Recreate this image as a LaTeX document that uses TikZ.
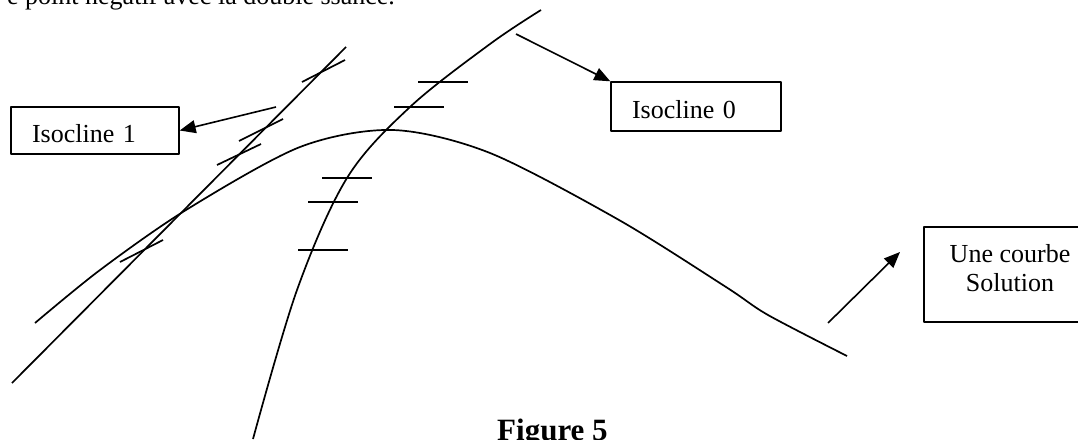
\documentclass[tikz,border=0pt]{standalone}
\usepackage{fontspec}
\setmainfont{Liberation Serif}
\usetikzlibrary{arrows.meta}

\begin{document}
\begin{tikzpicture}[
  x=1pt,
  y=-1pt,
  line join=round,
  curve/.style={draw=black,line width=1.7pt},
  tick/.style={draw=black,line width=1.7pt},
  labelbox/.style={draw=black,line width=1.4pt,inner ysep=0pt,
    text height=23pt,text depth=0pt,font=\fontsize{26}{29}\selectfont},
  solbox/.style={draw=black,line width=1.4pt,minimum width=172pt,minimum height=95pt},
  pointer/.style={draw=black,line width=1.6pt,-{Triangle[length=16pt,width=13pt]}}
]
  % Page frame of the scanned figure.
  \clip (0,0) rectangle (1078,439);

  % Cut-off line of text above the figure.
  \node[anchor=base west,inner sep=0pt,font=\fontsize{26}{29}\selectfont] (toptext)
    at (7,5) {e point négatif avec la double ssance.};

  % Isocline 1 (straight line) and its slanted direction marks.
  \coordinate (iA) at (12,383);
  \coordinate (iB) at (346,47);
  \draw[curve] (iA) -- (iB);
  \draw[tick] (302,82) -- (345,60);
  \draw[tick] (239,141) -- (283,119);
  \draw[tick] (217,165) -- (261,144);
  \draw[tick] (120,262) -- (163,240);

  % Isocline 0 and its horizontal direction marks.
  \draw[curve] plot[smooth,tension=0.55] coordinates {
    (253,439) (297,290) (347,178) (410,107) (490,44) (541,10)};
  \foreach \xa/\xb/\yy in {418/468/82,394/444/107,322/372/178,308/358/202,298/348/250} {
    \draw[tick] (\xa,\yy) -- (\xb,\yy);
  }

  % Solution curve.
  \draw[curve] plot[smooth,tension=0.5] coordinates {
    (35,323) (100,270) (186,210) (300,147) (393,130) (490,153)
    (619,220) (726,287) (768,315) (847,356)};

  % Label boxes.
  \node[labelbox,minimum width=168pt,minimum height=47pt,inner xsep=21pt,
    text width=126pt,align=left] (iso1) at (95,130.5) {Isocline 1};
  \node[labelbox,minimum width=170pt,minimum height=49pt,inner xsep=21pt,
    text width=128pt,align=left] (iso0) at (696,106.5) {Isocline 0};
  \node[solbox] (sol) at (1010,274.5) {};
  \node[anchor=north,inner sep=0pt,align=center,font=\fontsize{26}{29}\selectfont]
    (soltext) at (1010,244) {Une courbe\\Solution};

  % Pointers from the curves to the boxes.
  \coordinate (p1) at (276,107);
  \coordinate (p0) at (516,34);
  \coordinate (ps) at (828,323);
  \coordinate (psend) at (900,252);
  \draw[pointer] (p1) -- (iso1.east);
  \draw[pointer] (p0) -- (iso0.north west);
  \draw[pointer] (ps) -- (psend);

  % Caption, cut by the lower edge.
  \node[anchor=base west,inner sep=0pt,font=\fontsize{31}{34}\selectfont\bfseries] (caption)
    at (497,440) {Figure 5};
\end{tikzpicture}
\end{document}
